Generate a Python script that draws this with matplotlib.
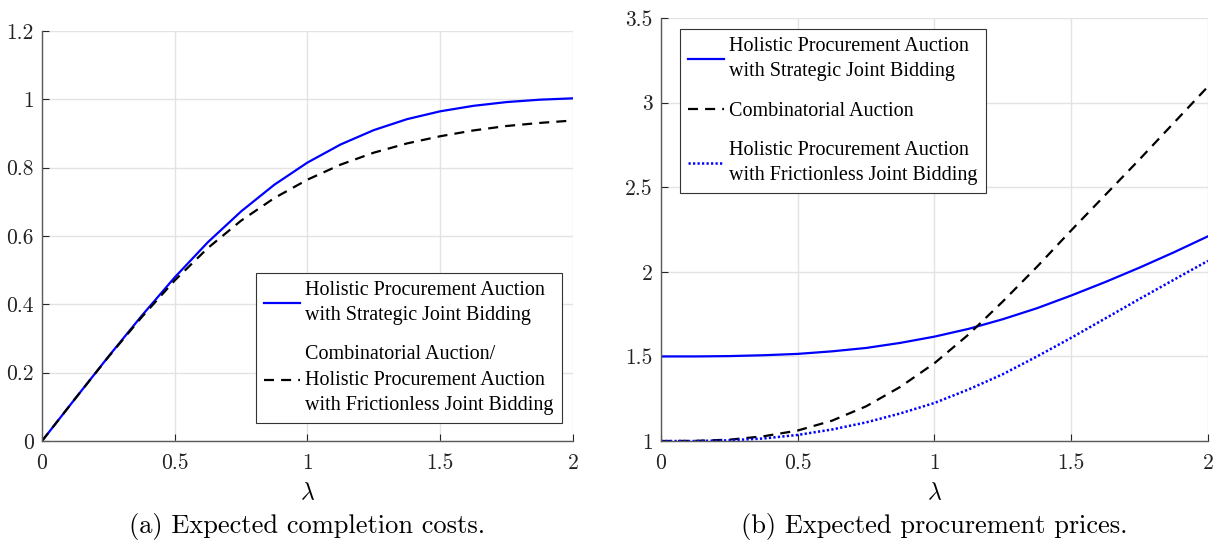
import matplotlib
matplotlib.use("Agg")
from matplotlib import pyplot as plt
from matplotlib.ticker import FuncFormatter

plt.rcParams['mathtext.fontset'] = 'cm'

# Values
lam = [0, 0.125, 0.25, 0.375, 0.5, 0.625, 0.75, 0.875, 1.0,
       1.125, 1.25, 1.375, 1.5, 1.625, 1.75, 1.875, 2.0]

# (a) expected completion costs
cost_strategic = [0, 0.124, 0.247, 0.366, 0.479, 0.582, 0.672, 0.75, 0.815,
                  0.868, 0.91, 0.942, 0.965, 0.981, 0.992, 0.999, 1.003]
cost_combinatorial = [0, 0.124, 0.246, 0.362, 0.47, 0.565, 0.645, 0.711, 0.765,
                      0.809, 0.844, 0.871, 0.892, 0.909, 0.922, 0.931, 0.938]

# (b) expected procurement prices
price_strategic = [1.5, 1.5, 1.502, 1.507, 1.515, 1.53, 1.55, 1.58, 1.617,
                   1.663, 1.72, 1.785, 1.86, 1.94, 2.025, 2.115, 2.21]
price_combinatorial = [1.0, 1.001, 1.008, 1.028, 1.062, 1.12, 1.205, 1.32, 1.46,
                       1.63, 1.825, 2.03, 2.245, 2.455, 2.665, 2.88, 3.095]
price_frictionless = [1.0, 1.0, 1.004, 1.015, 1.036, 1.068, 1.11, 1.163, 1.225,
                      1.305, 1.395, 1.5, 1.61, 1.725, 1.84, 1.953, 2.065]

label_strategic = 'Holistic Procurement Auction\nwith Strategic Joint Bidding'
label_comb_a = ('Combinatorial Auction/\nHolistic Procurement Auction\n'
                'with Frictionless Joint Bidding')
label_comb_b = 'Combinatorial Auction'
label_frictionless = 'Holistic Procurement Auction\nwith Frictionless Joint Bidding'

x_ticks = [0, 0.5, 1, 1.5, 2]
y_ticks_a = [0, 0.2, 0.4, 0.6, 0.8, 1.0, 1.2]
y_ticks_b = [1, 1.5, 2, 2.5, 3, 3.5]

caption_a = '(a) Expected completion costs.'
caption_b = '(b) Expected procurement prices.'

fig = plt.figure(figsize=(12.24, 5.43), dpi=100)
pos1 = [0.0343, 0.1878, 0.4338, 0.7551]
pos2 = [0.5400, 0.1878, 0.4469, 0.7790]
ax1 = fig.add_axes(pos1)
ax2 = fig.add_axes(pos2)

tick_font = {'family': 'cmr10', 'size': 15.5}
legend_font = {'family': 'Liberation Serif', 'size': 14.5}


def style_axes(ax, yticks):
    ax.set_xlim(0, 2)
    ax.set_ylim(yticks[0], yticks[-1])
    ax.set_xticks(x_ticks)
    ax.set_yticks(yticks)
    fmt = FuncFormatter(lambda v, p: f'{v:g}')
    ax.xaxis.set_major_formatter(fmt)
    ax.yaxis.set_major_formatter(fmt)
    for lab in ax.get_xticklabels() + ax.get_yticklabels():
        lab.set_fontfamily(tick_font['family'])
        lab.set_fontsize(tick_font['size'])
    ax.grid(True, color='#e3e3e3', lw=1.0)
    ax.set_axisbelow(True)
    for s in ['top', 'right']:
        ax.spines[s].set_visible(False)
    for s in ['left', 'bottom']:
        ax.spines[s].set_color('#5a5a5a')
        ax.spines[s].set_linewidth(1.0)
    ax.tick_params(direction='in', length=5, width=0.8, color='#262626',
                   labelcolor='#222222')
    ax.tick_params(axis='x', pad=9)
    ax.tick_params(axis='y', pad=6)
    ax.set_xlabel(r'$\lambda$', fontsize=17, labelpad=5)


dash = (0, (4.5, 3.2))
dot = (0, (0.9, 0.9))

ax1.plot(lam, cost_strategic, color='#0000ff', lw=1.6, label=label_strategic)
ax1.plot(lam, cost_combinatorial, color='black', lw=1.6, ls=dash,
         label=label_comb_a)
style_axes(ax1, y_ticks_a)

ax2.plot(lam, price_strategic, color='#0000ff', lw=1.6, label=label_strategic)
ax2.plot(lam, price_combinatorial, color='black', lw=1.6, ls=dash,
         label=label_comb_b)
ax2.plot(lam, price_frictionless, color='#0000ff', lw=1.8, ls=dot,
         label=label_frictionless)
style_axes(ax2, y_ticks_b)

for ax, loc, anchor in [(ax1, 'lower right', (0.979, 0.044)),
                        (ax2, 'upper left', (0.035, 0.974))]:
    leg = ax.legend(loc=loc, bbox_to_anchor=anchor, prop=legend_font,
                    fancybox=False, framealpha=1, edgecolor='#333333',
                    handlelength=1.8, handletextpad=0.25, labelspacing=1.0,
                    borderpad=0.4, borderaxespad=0)
    leg.get_frame().set_linewidth(0.8)
    for t in leg.get_texts():
        t.set_linespacing(1.45)

fig.text(pos1[0] + pos1[2] / 2, 0.03, caption_a, ha='center', va='center',
         fontfamily='cmr10', fontsize=19)
fig.text(pos2[0] + pos2[2] / 2, 0.03, caption_b, ha='center', va='center',
         fontfamily='cmr10', fontsize=19)

fig.savefig('out.png', dpi=100)
